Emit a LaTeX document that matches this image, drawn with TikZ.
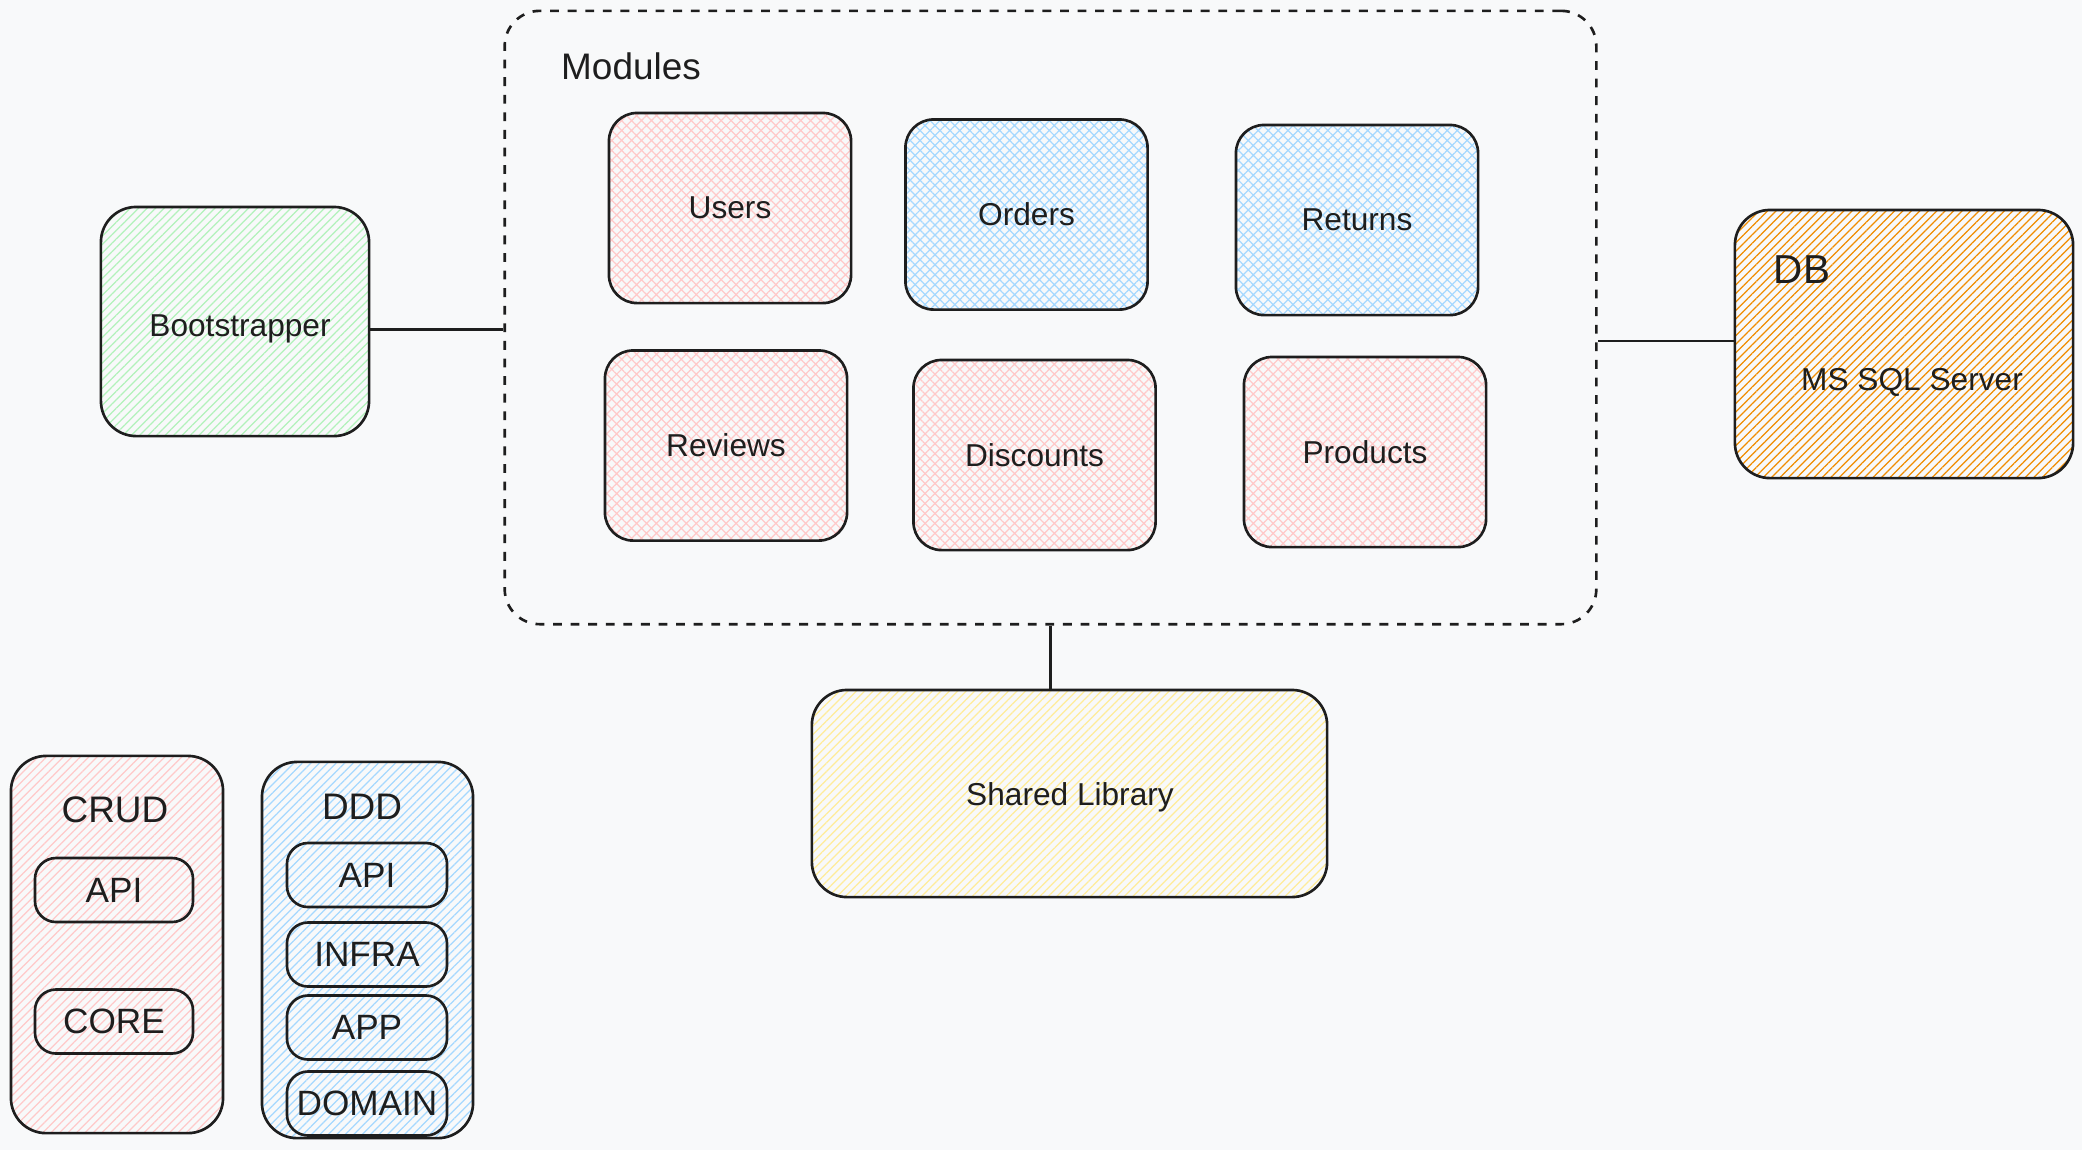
\documentclass[tikz,border=0pt]{standalone}
\usepackage{fontspec}
\setmainfont{Liberation Sans}
\usetikzlibrary{patterns.meta}

\definecolor{inkdark}{HTML}{1E1E1E}
\definecolor{paperbg}{HTML}{F8F9FA}
\definecolor{hatchpink}{HTML}{FFC9C9}
\definecolor{hatchblue}{HTML}{A5D8FF}
\definecolor{hatchgreen}{HTML}{B2F2BB}
\definecolor{hatchorange}{HTML}{F08C00}
\definecolor{hatchyellow}{HTML}{FFEC99}

\begin{document}
\begin{tikzpicture}[
  x=0.01cm,
  y=0.01cm,
  outline/.style={
    draw=inkdark,
    line width=0.75pt,
    rounded corners=8pt,
    inner sep=0pt,
    text=inkdark,
    font=\fontsize{9}{11}\selectfont
  },
  hatched/.style={
    pattern={Lines[angle=45,distance=1.7pt,line width=0.35pt]},
    pattern color=#1
  },
  crosshatched/.style={
    pattern={Hatch[angle=45,distance=2pt,line width=0.35pt]},
    pattern color=#1
  },
  modulebox/.style={
    outline,
    minimum width=2.42cm,
    minimum height=1.9cm
  },
  layerbox/.style={
    outline,
    rounded corners=6pt,
    minimum width=1.6cm,
    minimum height=0.64cm,
    font=\fontsize{10}{12}\selectfont
  },
  caption/.style={
    text=inkdark,
    inner sep=0pt,
    font=\fontsize{10.5}{12}\selectfont
  },
  connector/.style={
    draw=inkdark,
    line width=0.75pt
  }
]

\fill[paperbg] (0,0) rectangle (2082,-1150);

% modules container
\node[outline, dash pattern=on 2.5pt off 2.5pt, rounded corners=10pt,
  minimum width=10.91cm, minimum height=6.13cm] (modules) at (1050.5,-317.5) {};
\node[caption, font=\fontsize{10.5}{13}\selectfont] (modulestitle) at (631,-66) {Modules};

\node[modulebox, crosshatched=hatchpink] (users) at (730,-208) {Users};
\node[modulebox, crosshatched=hatchblue] (orders) at (1026.5,-214.5) {Orders};
\node[modulebox, crosshatched=hatchblue] (returns) at (1357,-220) {Returns};
\node[modulebox, crosshatched=hatchpink] (reviews) at (726,-445.5) {Reviews};
\node[modulebox, crosshatched=hatchpink] (discounts) at (1034.5,-455) {Discounts};
\node[modulebox, crosshatched=hatchpink] (products) at (1365,-452) {Products};

% host, database, shared
\node[outline, hatched=hatchgreen, rounded corners=10pt,
  minimum width=2.68cm, minimum height=2.29cm] (boot) at (235,-321.5) {};
\node[caption, font=\fontsize{9}{11}\selectfont] (boottext) at (240,-329) {Bootstrapper};
\node[outline, hatched=hatchorange, rounded corners=10pt,
  minimum width=3.38cm, minimum height=2.68cm] (db) at (1904,-344) {};
\node[caption, font=\fontsize{11.5}{13}\selectfont] (dbtitle) at (1802,-270) {DB};
\node[caption, font=\fontsize{9}{11}\selectfont] (dbengine) at (1912,-382) {MS SQL Server};
\node[outline, hatched=hatchyellow, rounded corners=10pt,
  minimum width=5.15cm, minimum height=2.07cm] (shared) at (1069.5,-793.5) {};
\node[caption, font=\fontsize{9}{11}\selectfont] (sharedtext) at (1070,-797) {Shared Library};

\draw[connector] ([yshift=-0.08cm]boot.east) -- ([yshift=-0.08cm]boot.east -| modules.west);
\draw[connector] ([yshift=0.03cm]db.west) -- ([yshift=0.03cm]db.west -| modules.east);
\draw[connector] (modules.south) -- (modules.south |- shared.north);

% legend
\node[outline, hatched=hatchpink, rounded corners=10pt,
  minimum width=2.12cm, minimum height=3.77cm] (crud) at (117,-944.5) {};
\node[caption] (crudtitle) at (115,-810) {CRUD};
\node[layerbox, minimum width=1.58cm] (crudapi) at (114,-890) {API};
\node[layerbox, minimum width=1.58cm] (crudcore) at (114,-1021.5) {CORE};

\node[outline, hatched=hatchblue, rounded corners=10pt,
  minimum width=2.11cm, minimum height=3.76cm] (ddd) at (367.5,-950) {};
\node[caption] (dddtitle) at (362,-807) {DDD};
\node[layerbox] (dddapi) at (367,-875) {API};
\node[layerbox] (dddinfra) at (367,-954.5) {INFRA};
\node[layerbox] (dddapp) at (367,-1027.5) {APP};
\node[layerbox] (ddddomain) at (367,-1103.5) {DOMAIN};

\end{tikzpicture}
\end{document}
